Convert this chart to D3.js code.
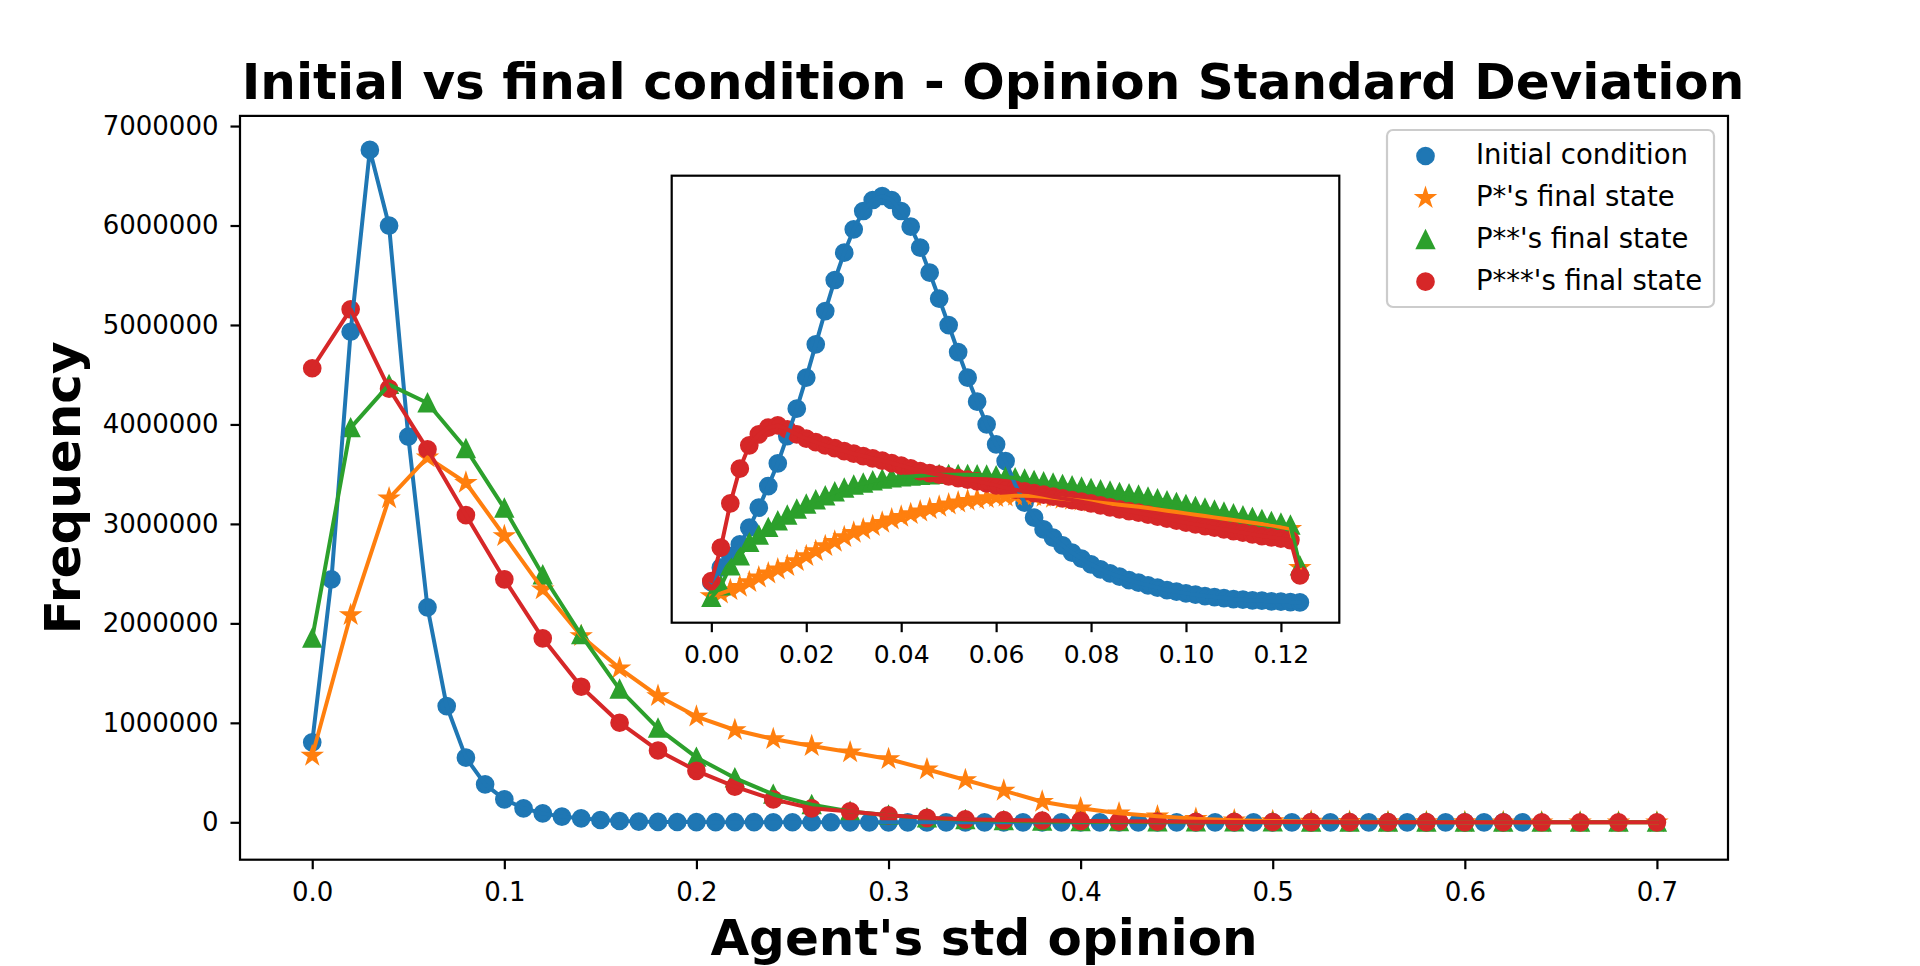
<!DOCTYPE html>
<html lang='en'>
  <head>
    <style type='text/css'>
      body {margin: 0; background-color: #fff;}
      svg text {font-family: 'DejaVu Sans', sans-serif;}
    </style>
  </head>
  <body>
    <svg id='chart' width='1920' height='966'></svg>
    <script src='https://d3js.org/d3.v7.min.js'></script>
    <script type='text/javascript'>
        /************************************
        *               DATA                *
        ************************************/

        // main plot bins (agent's std opinion)
        var binsFine = [0.00, 0.01, 0.02, 0.03, 0.04, 0.05, 0.06, 0.07, 0.08, 0.09,
                        0.10, 0.11, 0.12, 0.13, 0.14, 0.15, 0.16, 0.17, 0.18, 0.19,
                        0.20, 0.21, 0.22, 0.23, 0.24, 0.25, 0.26, 0.27, 0.28, 0.29,
                        0.30, 0.31, 0.32, 0.33, 0.34, 0.35, 0.36, 0.37, 0.38, 0.39,
                        0.40, 0.41, 0.42, 0.43, 0.44, 0.45, 0.46, 0.47, 0.48, 0.49,
                        0.50, 0.51, 0.52, 0.53, 0.54, 0.55, 0.56, 0.57, 0.58, 0.59,
                        0.60, 0.61, 0.62, 0.63];
        var binsCoarse = [0.00, 0.02, 0.04, 0.06, 0.08, 0.10, 0.12, 0.14, 0.16, 0.18,
                          0.20, 0.22, 0.24, 0.26, 0.28, 0.30, 0.32, 0.34, 0.36, 0.38,
                          0.40, 0.42, 0.44, 0.46, 0.48, 0.50, 0.52, 0.54, 0.56, 0.58,
                          0.60, 0.62, 0.64, 0.66, 0.68, 0.70];

        var initialCond = [804000, 2443000, 4932000, 6760000, 5998000, 3877000, 2161000, 1169000, 650000, 382000,
                           231000, 141000, 90000, 57000, 40000, 23000, 13000, 7000, 4000, 3000,
                           2000, 1500, 1000, 800, 600, 500, 400, 300, 250, 200,
                           150, 120, 100, 80, 60, 50, 40, 30, 25, 20,
                           15, 12, 10, 8, 6, 5, 4, 3, 3, 2,
                           2, 1, 1, 1, 1, 1, 1, 1, 0, 0,
                           0, 0, 0, 0];
        var pStar = [670000, 2084000, 3257000, 3669000, 3414000, 2878000, 2342000, 1873000, 1548000, 1270000,
                     1063000, 928000, 837000, 767000, 704000, 636000, 533000, 425000, 318000, 207000,
                     141000, 90000, 60000, 35000, 20000, 12000, 8000, 5000, 3000, 2000,
                     1500, 1000, 500, 300, 100, 50];
        var pStar2 = [1850000, 3965000, 4400000, 4215000, 3755000, 3157000, 2486000, 1883000, 1337000, 945000,
                      652000, 445000, 280000, 176000, 109000, 70000, 42000, 25000, 15000, 9000,
                      5000, 3000, 2000, 1000, 600, 400, 200, 100, 80, 50,
                      30, 20, 10, 5, 2, 1];
        var pStar3 = [4565000, 5157000, 4360000, 3750000, 3089000, 2443000, 1850000, 1363000, 1001000, 722000,
                      518000, 358000, 231000, 141000, 109000, 70000, 45000, 30000, 22000, 18000,
                      14000, 10000, 7000, 5000, 4000, 3000, 2000, 1500, 1000, 800,
                      600, 400, 300, 200, 100, 50];

        // inset: finer bins over the low end (frequencies in thousands)
        var insetBins = [0.000, 0.002, 0.004, 0.006, 0.008, 0.010, 0.012, 0.014, 0.016, 0.018,
                         0.020, 0.022, 0.024, 0.026, 0.028, 0.030, 0.032, 0.034, 0.036, 0.038,
                         0.040, 0.042, 0.044, 0.046, 0.048, 0.050, 0.052, 0.054, 0.056, 0.058,
                         0.060, 0.062, 0.064, 0.066, 0.068, 0.070, 0.072, 0.074, 0.076, 0.078,
                         0.080, 0.082, 0.084, 0.086, 0.088, 0.090, 0.092, 0.094, 0.096, 0.098,
                         0.100, 0.102, 0.104, 0.106, 0.108, 0.110, 0.112, 0.114, 0.116, 0.118,
                         0.120, 0.122, 0.124];
        var insetInitial = [120, 163, 198, 233, 283, 343, 408, 476, 558, 640,
                            733, 833, 933, 1026, 1108, 1178, 1233, 1266, 1278, 1266,
                            1233, 1186, 1123, 1048, 970, 891, 810, 733, 661, 593,
                            533, 483, 413, 358, 313, 278, 253, 230, 208, 190,
                            173, 158, 146, 136, 126, 118, 110, 103, 96, 91,
                            86, 82, 78, 75, 72, 69, 67, 65, 64, 62,
                            61, 60, 59];
        var insetStar = [78, 86, 96, 106, 120, 134, 146, 158, 168, 183,
                         198, 213, 228, 241, 255, 268, 278, 288, 298, 308,
                         316, 324, 332, 339, 346, 353, 359, 364, 368, 372,
                         375, 377, 379, 379, 378, 376, 373, 370, 367, 364,
                         361, 358, 355, 352, 349, 346, 342, 338, 334, 330,
                         326, 322, 318, 314, 310, 306, 302, 298, 294, 290,
                         285, 280, 163];
        var insetStar2 = [73, 108, 168, 198, 238, 260, 283, 303, 320, 338,
                          353, 366, 378, 390, 401, 410, 416, 423, 428, 432,
                          435, 437, 439, 441, 442, 442, 442, 442, 441, 440,
                          438, 435, 432, 428, 424, 420, 416, 412, 408, 404,
                          400, 396, 392, 388, 384, 380, 374, 369, 363, 358,
                          352, 346, 341, 335, 329, 324, 318, 313, 307, 301,
                          296, 290, 168];
        var insetStar3 = [123, 223, 356, 460, 530, 563, 583, 590, 578, 563,
                          550, 540, 530, 522, 513, 505, 498, 491, 484, 477,
                          469, 461, 453, 447, 442, 437, 432, 427, 422, 416,
                          410, 403, 397, 392, 387, 382, 376, 371, 366, 361,
                          356, 350, 344, 338, 333, 328, 322, 316, 310, 304,
                          298, 293, 288, 283, 278, 273, 268, 263, 258, 254,
                          250, 246, 140];

        var seriesNames = ["Initial condition", "P*'s final state", "P**'s final state", "P***'s final state"];
        var xTicks = [0.0, 0.1, 0.2, 0.3, 0.4, 0.5, 0.6, 0.7];
        var yTicks = [0, 1000000, 2000000, 3000000, 4000000, 5000000, 6000000, 7000000];
        var insetTicks = [0.00, 0.02, 0.04, 0.06, 0.08, 0.10, 0.12];

        /************************************
        *              LAYOUT               *
        ************************************/

        var colors = ["#1f77b4", "#ff7f0e", "#2ca02c", "#d62728"];
        var shapes = ["circle", "star", "triangle", "circle"];
        var R = 8;            // marker half-size (before edge)
        var EDGE = 2.7;       // marker edge width, same colour as face
        var LW = 4;           // line width
        var SPINE = 2.2;
        var TICK = 9.5;

        var svg = d3.select("#chart");
        svg.append("rect").attr("width", 1920).attr("height", 966).attr("fill", "#fff");

        var box = {left: 240, right: 1728, top: 115.9, bottom: 859.7};
        var ibox = {left: 671.7, right: 1339.3, top: 175.7, bottom: 622.7};

        var x = d3.scaleLinear().domain([-0.0376, 0.737]).range([box.left, box.right]);
        var y = d3.scaleLinear().domain([-376000, 7102000]).range([box.bottom, box.top]);

        var ix = d3.scaleLinear().domain([-0.00835, 0.1323]).range([ibox.left, ibox.right]);
        var iext = d3.extent(insetInitial.concat(insetStar, insetStar2, insetStar3));
        var ipad = (iext[1] - iext[0]) * 0.05;
        var iy = d3.scaleLinear().domain([iext[0] - ipad, iext[1] + ipad]).range([ibox.bottom, ibox.top]);

        // marker shapes like matplotlib's 'o', '*', '^'
        function markerPath(shape, r) {
          if (shape === "circle") return d3.symbol().type(d3.symbolCircle).size(Math.PI * r * r)();
          if (shape === "triangle") return "M0," + (-r) + "L" + (-r) + "," + r + "L" + r + "," + r + "Z";
          var pts = [];
          for (var k = 0; k < 10; k++) {
            var rad = k % 2 ? r * 0.381966 : r;
            var a = -Math.PI / 2 + k * Math.PI / 5;
            pts.push([rad * Math.cos(a), rad * Math.sin(a)]);
          }
          return "M" + pts.join("L") + "Z";
        }

        function marker(sel, i) {
          sel.attr("d", markerPath(shapes[i], R))
            .attr("fill", colors[i])
            .attr("stroke", colors[i])
            .attr("stroke-width", EDGE)
            .attr("stroke-linejoin", "miter");
        }

        function clip(id, b) {
          svg.append("clipPath").attr("id", id).append("rect")
            .attr("x", b.left).attr("y", b.top)
            .attr("width", b.right - b.left).attr("height", b.bottom - b.top);
        }
        clip("clipMain", box);
        clip("clipInset", ibox);

        // scatter markers first, lines on top (matplotlib zorder)
        function drawSeries(g, series, sx, sy) {
          series.forEach(function(s, i) {
            g.append("g").selectAll("path")
              .data(d3.zip(s.xs, s.ys))
              .enter().append("path")
              .call(marker, i)
              .attr("transform", function(d) { return "translate(" + sx(d[0]) + "," + sy(d[1]) + ")"; });
          });
          var line = d3.line()
            .x(function(d) { return sx(d[0]); })
            .y(function(d) { return sy(d[1]); });
          series.forEach(function(s, i) {
            g.append("path")
              .datum(d3.zip(s.xs, s.ys))
              .attr("d", line)
              .attr("fill", "none")
              .attr("stroke", colors[i])
              .attr("stroke-width", LW)
              .attr("stroke-linejoin", "round")
              .attr("stroke-linecap", "square");
          });
        }

        function styleAxis(g, size) {
          g.attr("font-size", size).attr("font-family", "DejaVu Sans");
          g.select(".domain").remove();
          g.selectAll(".tick line").attr("stroke", "#000").attr("stroke-width", SPINE);
          g.selectAll(".tick text").attr("fill", "#000");
        }

        function frame(b) {
          svg.append("rect")
            .attr("x", b.left).attr("y", b.top)
            .attr("width", b.right - b.left).attr("height", b.bottom - b.top)
            .attr("fill", "none").attr("stroke", "#000").attr("stroke-width", SPINE);
        }

        /************************************
        *            MAIN AXES              *
        ************************************/

        var mainG = svg.append("g").attr("clip-path", "url(#clipMain)");
        drawSeries(mainG, [
          {xs: binsFine, ys: initialCond},
          {xs: binsCoarse, ys: pStar},
          {xs: binsCoarse, ys: pStar2},
          {xs: binsCoarse, ys: pStar3}
        ], x, y);

        var xAxis = svg.append("g")
          .attr("transform", "translate(0," + box.bottom + ")")
          .call(d3.axisBottom(x).tickValues(xTicks).tickFormat(d3.format(".1f"))
                .tickSizeOuter(0).tickSize(TICK).tickPadding(13));
        styleAxis(xAxis, 26);

        var yAxis = svg.append("g")
          .attr("transform", "translate(" + box.left + ",0)")
          .call(d3.axisLeft(y).tickValues(yTicks).tickFormat(d3.format("d"))
                .tickSizeOuter(0).tickSize(TICK).tickPadding(12));
        styleAxis(yAxis, 26);

        frame(box);

        // title and axis labels
        svg.append("text")
          .attr("x", 993).attr("y", 99)
          .attr("text-anchor", "middle").attr("font-size", 50).attr("font-weight", "bold")
          .text("Initial vs final condition - Opinion Standard Deviation");
        svg.append("text")
          .attr("x", (box.left + box.right) / 2).attr("y", 955)
          .attr("text-anchor", "middle").attr("font-size", 50).attr("font-weight", "bold")
          .text("Agent's std opinion");
        svg.append("text")
          .attr("transform", "translate(80," + (box.top + box.bottom) / 2 + ") rotate(-90)")
          .attr("text-anchor", "middle").attr("font-size", 50).attr("font-weight", "bold")
          .text("Frequency");

        // legend
        var legend = svg.append("g");
        legend.append("rect")
          .attr("x", 1387).attr("y", 130).attr("width", 327).attr("height", 177).attr("rx", 6)
          .attr("fill", "#fff").attr("fill-opacity", 0.8)
          .attr("stroke", "#cccccc").attr("stroke-width", SPINE);
        seriesNames.forEach(function(name, i) {
          var ry = 156 + i * 41.9;
          legend.append("path")
            .call(marker, i)
            .attr("transform", "translate(1425.5," + ry + ")");
          legend.append("text")
            .attr("x", 1476).attr("y", ry + 8)
            .attr("font-size", 27.5).attr("fill", "#000")
            .text(name);
        });

        /************************************
        *              INSET                *
        ************************************/

        svg.append("rect")
          .attr("x", ibox.left).attr("y", ibox.top)
          .attr("width", ibox.right - ibox.left).attr("height", ibox.bottom - ibox.top)
          .attr("fill", "#fff");

        var insetG = svg.append("g").attr("clip-path", "url(#clipInset)");
        drawSeries(insetG, [
          {xs: insetBins, ys: insetInitial},
          {xs: insetBins, ys: insetStar},
          {xs: insetBins, ys: insetStar2},
          {xs: insetBins, ys: insetStar3}
        ], ix, iy);

        var ixAxis = svg.append("g")
          .attr("transform", "translate(0," + ibox.bottom + ")")
          .call(d3.axisBottom(ix).tickValues(insetTicks).tickFormat(d3.format(".2f"))
                .tickSizeOuter(0).tickSize(TICK).tickPadding(13.3));
        styleAxis(ixAxis, 25);

        frame(ibox);
    </script>
  </body>
</html>
